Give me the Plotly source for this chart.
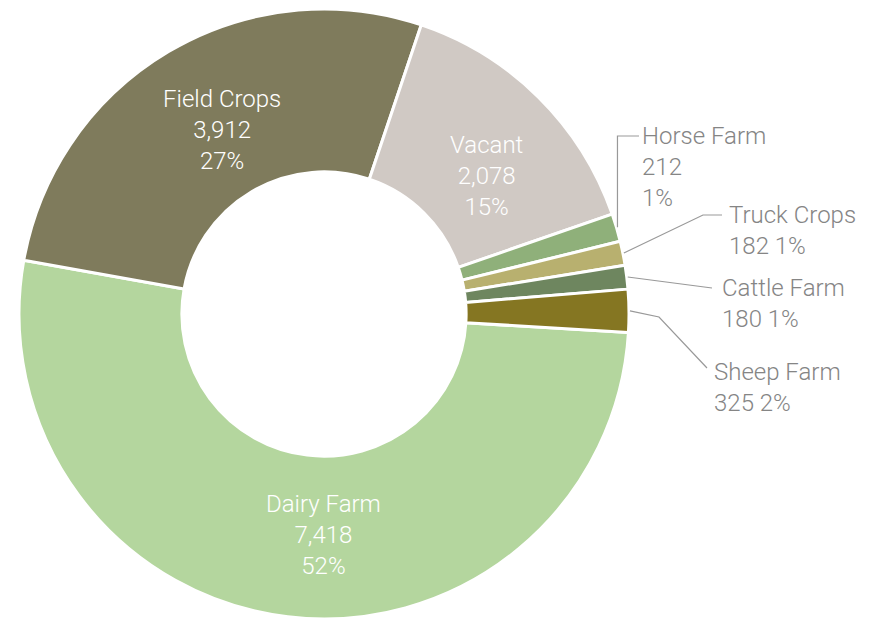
import math
import plotly.graph_objects as go

# ---- data ----
categories = ["Dairy Farm", "Field Crops", "Vacant", "Horse Farm", "Truck Crops", "Cattle Farm", "Sheep Farm"]
values = [7418, 3912, 2078, 212, 182, 180, 325]
colors = ["#b4d69e", "#7f7b5c", "#d0c9c4", "#8fb07a", "#b8b06f", "#6e865f", "#857622"]

W, H = 874, 619
OFF = 8                              # page body margin
CX, CY, R = 324, 314, 305            # pie centre / radius in screen pixels
HOLE = 0.466
ROTATION = 93.5                      # clockwise from 12 o'clock

total = sum(values)
pcts = [v / total for v in values]

def px(x, y):
    return (x - OFF) / W, 1 - (y - OFF) / H

cyb = H - (CY - OFF)                 # centre from figure bottom
fig = go.Figure(go.Pie(
    labels=categories, values=values, sort=False, direction="clockwise",
    rotation=ROTATION, hole=HOLE, textinfo="none", hoverinfo="label+value+percent",
    marker=dict(colors=colors, line=dict(color="white", width=3)),
    domain=dict(x=[(CX - OFF - R) / W, (CX - OFF + R) / W],
                y=[(cyb - R) / H, (cyb + R) / H]),
    showlegend=False,
))

inside_pos = {"Dairy Farm": (323, 535), "Field Crops": (222, 130), "Vacant": (487, 176)}
outside_pos = {
    "Horse Farm": (641, 167),
    "Truck Crops": (728, 230.5),
    "Cattle Farm": (721, 303.5),
    "Sheep Farm": (713, 388),
}
leader_bends = {
    "Horse Farm": [("x0", 136), (639, 136)],
    "Truck Crops": [(703, 215), (722, 215)],
    "Cattle Farm": [(712, 288)],
    "Sheep Farm": [(659, 317), (707, 368)],
}

FONT = dict(family="Roboto Light, Roboto", size=24, weight=300)
annotations = []
shapes = []
cum = 0.0
for cat, v, p in zip(categories, values, pcts):
    mid = ROTATION + (cum + p / 2) * 360
    cum += p
    pct_txt = f"{round(p * 100):d}%"
    val_txt = f"{v:,}"
    if cat in inside_pos:
        x, y = inside_pos[cat]
        X, Y = px(x, y)
        annotations.append(dict(
            x=X, y=Y, xref="paper", yref="paper", xanchor="center", yanchor="middle",
            text=f"{cat}<br>{val_txt}<br>{pct_txt}", showarrow=False, align="center",
            borderpad=0, font=dict(FONT, color="white")))
    else:
        x, y = outside_pos[cat]
        if cat == "Horse Farm":
            txt = f"{cat}<br>{val_txt}<br>{pct_txt}"
        else:
            txt = f"{cat}<br>{val_txt} {pct_txt}"
        X, Y = px(x, y)
        annotations.append(dict(
            x=X, y=Y, xref="paper", yref="paper", xanchor="left", yanchor="middle",
            text=txt, showarrow=False, align="left", borderpad=0,
            font=dict(FONT, color="#858585")))
        a = math.radians(mid)
        sx = CX + (R + 1) * math.sin(a)
        sy = CY - (R + 1) * math.cos(a)
        pts = [(sx, sy)]
        for bx, by in leader_bends[cat]:
            pts.append((sx if bx == "x0" else bx, by))
        path = ""
        for i, (qx, qy) in enumerate(pts):
            QX, QY = px(qx, qy)
            path += ("M" if i == 0 else "L") + f"{QX:.5f},{QY:.5f} "
        shapes.append(dict(type="path", path=path.strip(), xref="paper", yref="paper",
                           line=dict(color="#999999", width=1.2)))

fig.update_layout(
    width=W, height=H, margin=dict(l=0, r=0, t=0, b=0),
    paper_bgcolor="white", plot_bgcolor="white",
    annotations=annotations, shapes=shapes,
)
fig.write_html("out.html")
